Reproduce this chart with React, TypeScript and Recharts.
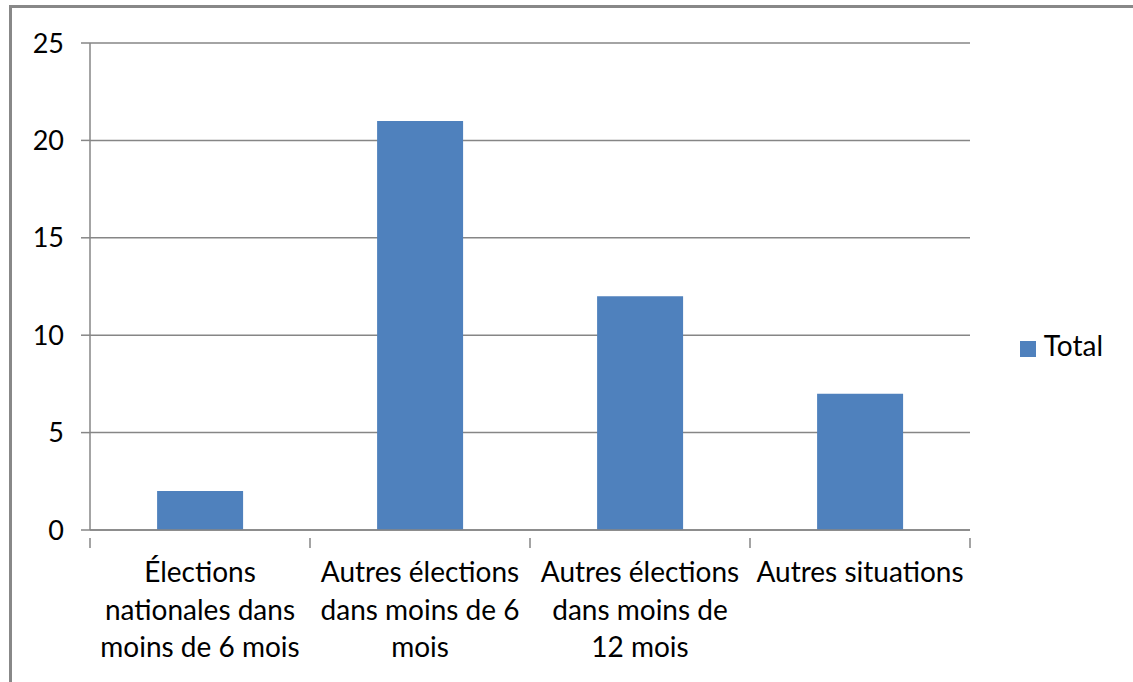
import { Bar, BarChart, CartesianGrid, Legend, XAxis, YAxis } from "recharts";

const categories = ["Élections nationales dans moins de 6 mois", "Autres élections dans moins de 6 mois", "Autres élections dans moins de 12 mois", "Autres situations"];
const categoryLines = [
  ["Élections", "nationales dans", "moins de 6 mois"],
  ["Autres élections", "dans moins de 6", "mois"],
  ["Autres élections", "dans moins de", "12 mois"],
  ["Autres situations"],
];
const totals = [2, 21, 12, 7];
const yTicks = [0, 5, 10, 15, 20, 25];

const data = categories.map((c, i) => ({ name: c, total: totals[i] }));

const FONT = "Lato, 'Open Sans', sans-serif";
const GRID = "#868686";
const BAR = "#4f81bd";

function CatTick(props: any) {
  const { x, y, payload, index, visibleTicksCount } = props;
  const half = payload.offset || 0;
  const lines = categoryLines[index] || [payload.value];
  return (
    <g>
      <line x1={x - half} x2={x - half} y1={y} y2={y + 10} stroke={GRID} strokeWidth={1.5} />
      {index === visibleTicksCount - 1 && (
        <line x1={x + half} x2={x + half} y1={y} y2={y + 10} stroke={GRID} strokeWidth={1.5} />
      )}
      <text x={x} y={y + 44} textAnchor="middle" fontSize={28} fontFamily={FONT} fill="#000">
        {lines.map((l, i) => (
          <tspan key={i} x={x} dy={i === 0 ? 0 : 37.5}>{l}</tspan>
        ))}
      </text>
    </g>
  );
}

export default function App() {
  return (
    <div style={{ position: "absolute", left: 0, top: 0, width: 1133, height: 682, background: "#fff", overflow: "hidden" }}>
      <div style={{ position: "absolute", left: 9, top: 5, width: 1200, height: 800, borderLeft: "3px solid #888", borderTop: "3px solid #888" }} />
      <div style={{ position: "absolute", left: 0, top: 0 }}>
        <BarChart width={1133} height={682} data={data} margin={{ top: 43, right: 43, bottom: 0, left: 0 }} barCategoryGap="30.5%">
          <CartesianGrid horizontal vertical={false} stroke={GRID} strokeWidth={1.5} />
          <XAxis dataKey="name" height={152} interval={0} tickLine={false} axisLine={{ stroke: GRID, strokeWidth: 1.5 }} tick={<CatTick />} />
          <YAxis width={90} domain={[0, 25]} ticks={yTicks} tickSize={9} tickMargin={17} axisLine={{ stroke: GRID, strokeWidth: 1.5 }} tickLine={{ stroke: GRID, strokeWidth: 1.5 }} tick={{ fontSize: 27, fontFamily: FONT, fill: "#000" }} />
          <Legend layout="horizontal" verticalAlign="middle" align="right" iconType="square" iconSize={16}
            wrapperStyle={{ left: 993, top: 328, width: 120, right: "auto", fontFamily: FONT, fontSize: 28 }}
            formatter={(v: string) => <span style={{ color: "#000", marginLeft: 4 }}>{v}</span>} />
          <Bar dataKey="total" name="Total" fill={BAR} isAnimationActive={false} />
        </BarChart>
      </div>
    </div>
  );
}
